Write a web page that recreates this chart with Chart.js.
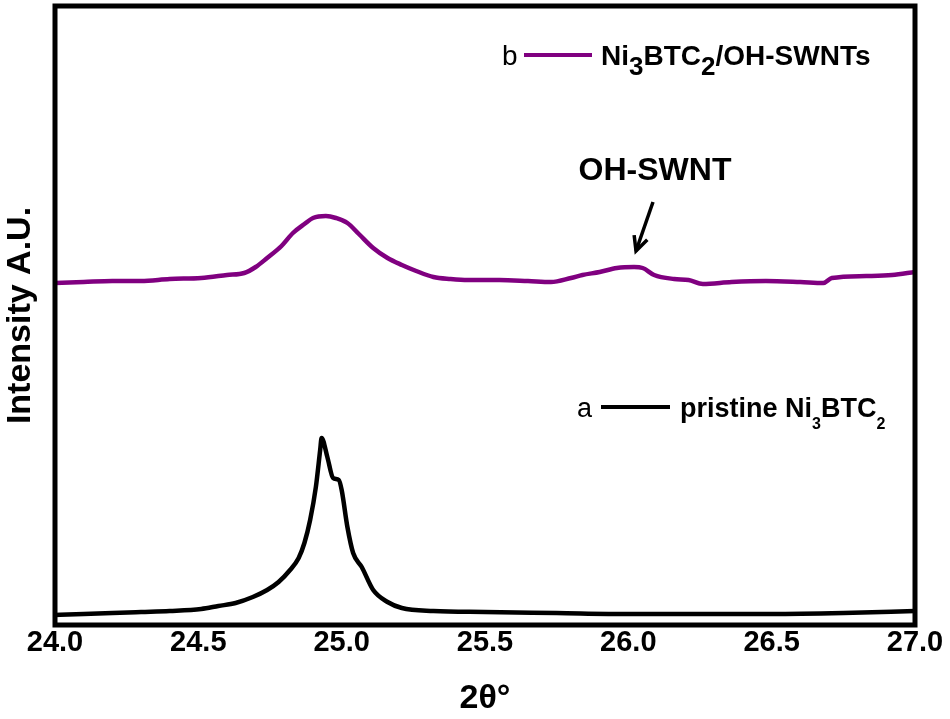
<!DOCTYPE html>
<html>
<head>
<meta charset="utf-8">
<title>XRD Ni3BTC2</title>
<script src="https://cdn.jsdelivr.net/npm/chart.js@4/dist/chart.umd.min.js"></script>
<style>
  html, body { margin: 0; padding: 0; background: #fff; }
  #wrap { width: 950px; height: 719px; position: relative; }
</style>
</head>
<body>
<div id="wrap"><canvas id="xrdChart"></canvas></div>
<script>
// --- data (2θ in degrees, intensity in arbitrary units) ---
const twoThetaB = [24.00, 24.10, 24.20, 24.30, 24.40, 24.51, 24.60, 24.66, 24.70, 24.74,
                   24.79, 24.83, 24.87, 24.90, 24.945, 24.98, 25.02, 25.06, 25.11, 25.16,
                   25.21, 25.26, 25.32, 25.38, 25.44, 25.55, 25.65, 25.73, 25.80, 25.84,
                   25.90, 25.96, 26.02, 26.05, 26.09, 26.16, 26.21, 26.26, 26.36, 26.48,
                   26.60, 26.68, 26.71, 26.83, 26.92, 27.00];
const intensityB = [339, 340, 341, 341, 343, 344, 347, 349, 355, 364,
                    376, 389, 398, 404, 406, 404, 399, 388, 374, 364,
                    357, 351, 345, 343, 342, 342, 341, 340, 344, 347,
                    350, 354, 355, 354, 347, 343, 342, 338, 340, 341,
                    340, 339, 344, 346, 347, 350];

const twoThetaA = [24.00, 24.10, 24.20, 24.30, 24.40, 24.51, 24.57, 24.63, 24.69, 24.74,
                   24.78, 24.82, 24.85, 24.87, 24.89, 24.91, 24.925, 24.93, 24.95, 24.97,
                   24.99, 25.00, 25.02, 25.04, 25.07, 25.11, 25.16, 25.21, 25.32, 25.50,
                   25.75, 26.00, 26.25, 26.50, 26.75, 27.00];
const intensityA = [7, 8, 9, 10, 11, 13, 16, 19, 25, 32,
                    40, 52, 64, 79, 102, 135, 172, 184, 165, 144,
                    142, 132, 95, 69, 55, 32, 20, 14, 11, 10,
                    9, 8, 8, 8, 9, 11];

const xTicks = [24.0, 24.5, 25.0, 25.5, 26.0, 26.5, 27.0];

const FONT = '"Liberation Sans", Arial, sans-serif';
const PURPLE = '#800080';

function toPoints(xs, ys) {
    return xs.map((x, i) => ({ x: x, y: ys[i] }));
}

// text with subscript pieces: [[text, isSub], ...]
function drawRich(ctx, parts, x, y, size, subSize, subDrop) {
    parts.forEach(p => {
        if (p[1]) {
            ctx.font = 'bold ' + subSize + 'px ' + FONT;
            ctx.fillText(p[0], x, y + subDrop);
        } else {
            ctx.font = 'bold ' + size + 'px ' + FONT;
            ctx.fillText(p[0], x, y);
        }
        x += ctx.measureText(p[0]).width;
    });
}

// frame, legend entries and the OH-SWNT note
const decorations = {
    id: 'decorations',
    afterDraw(chart) {
        const ctx = chart.ctx;
        const a = chart.chartArea;
        ctx.save();

        ctx.strokeStyle = '#000';
        ctx.lineWidth = 5;
        ctx.strokeRect(a.left, a.top, a.right - a.left, a.bottom - a.top);

        ctx.fillStyle = '#000';
        ctx.textBaseline = 'alphabetic';
        ctx.textAlign = 'left';

        // legend b
        ctx.font = '28px ' + FONT;
        ctx.fillText('b', 502, 65);
        ctx.strokeStyle = PURPLE;
        ctx.lineWidth = 4;
        ctx.beginPath(); ctx.moveTo(524, 55); ctx.lineTo(592, 55); ctx.stroke();
        drawRich(ctx, [['Ni', 0], ['3', 1], ['BTC', 0], ['2', 1], ['/OH-SWNTs', 0]], 601, 65, 28, 26, 10);

        // legend a
        ctx.font = '27px ' + FONT;
        ctx.fillText('a', 577, 417);
        ctx.strokeStyle = '#000';
        ctx.beginPath(); ctx.moveTo(601, 407); ctx.lineTo(670, 407); ctx.stroke();
        drawRich(ctx, [['pristine Ni', 0], ['3', 1], ['BTC', 0], ['2', 1]], 680, 417, 27, 16, 12);

        // OH-SWNT label and arrow
        ctx.font = 'bold 32px ' + FONT;
        ctx.textAlign = 'center';
        ctx.fillText('OH-SWNT', 655, 180);
        const x1 = 653, y1 = 202, x2 = 636, y2 = 251;
        ctx.lineWidth = 3.5;
        ctx.beginPath(); ctx.moveTo(x1, y1); ctx.lineTo(x2, y2); ctx.stroke();
        const ang = Math.atan2(y2 - y1, x2 - x1);
        const hl = 16;
        ctx.beginPath();
        ctx.moveTo(x2 - hl * Math.cos(ang - 0.45), y2 - hl * Math.sin(ang - 0.45));
        ctx.lineTo(x2, y2);
        ctx.lineTo(x2 - hl * Math.cos(ang + 0.45), y2 - hl * Math.sin(ang + 0.45));
        ctx.stroke();

        ctx.restore();
    }
};

const ctx = document.getElementById('xrdChart').getContext('2d');

new Chart(ctx, {
    type: 'line',
    data: {
        datasets: [{
            label: 'Ni3BTC2/OH-SWNTs',
            data: toPoints(twoThetaB, intensityB),
            borderColor: PURPLE,
            borderWidth: 4.5,
            pointRadius: 0,
            cubicInterpolationMode: 'monotone',
            fill: false
        }, {
            label: 'pristine Ni3BTC2',
            data: toPoints(twoThetaA, intensityA),
            borderColor: '#000',
            borderWidth: 4.5,
            pointRadius: 0,
            cubicInterpolationMode: 'monotone',
            fill: false
        }]
    },
    options: {
        responsive: true,
        maintainAspectRatio: false,
        animation: false,
        layout: { padding: { top: 6, right: 35, left: 0, bottom: 0 } },
        plugins: {
            legend: { display: false },
            tooltip: { enabled: false }
        },
        scales: {
            x: {
                type: 'linear',
                min: 24,
                max: 27,
                afterBuildTicks: axis => { axis.ticks = xTicks.map(v => ({ value: v })); },
                afterFit: axis => { axis.height = 94; },
                grid: { display: false, drawTicks: false },
                border: { display: false },
                ticks: {
                    color: '#000',
                    padding: 1,
                    maxRotation: 0,
                    font: { family: FONT, size: 29, weight: 'bold' },
                    callback: v => Number(v).toFixed(1)
                },
                title: {
                    display: true,
                    text: '2θ°',
                    color: '#000',
                    padding: { top: 0, bottom: 0 },
                    font: { family: FONT, size: 34, weight: 'bold' }
                }
            },
            y: {
                min: -3,
                max: 616,
                afterFit: axis => { axis.width = 55; },
                grid: { display: false, drawTicks: false },
                border: { display: false },
                ticks: { display: false },
                title: {
                    display: true,
                    text: 'Intensity A.U.',
                    color: '#000',
                    padding: { top: 0, bottom: 0 },
                    font: { family: FONT, size: 34, weight: 'bold' }
                }
            }
        }
    },
    plugins: [decorations]
});
</script>
</body>
</html>
